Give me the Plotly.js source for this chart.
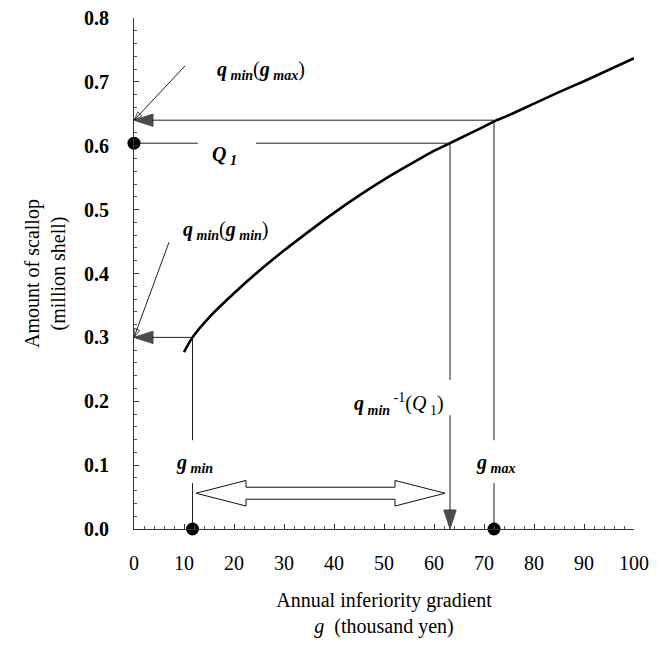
<!DOCTYPE html>
<html>
<head>
<meta charset="utf-8">
<script src="https://cdn.plot.ly/plotly-3.0.1.min.js"></script>
<style>html,body{margin:0;padding:0;background:#fff;}#chart{width:658px;height:656px;}</style>
</head>
<body>
<div id="chart"></div>
<script>
// ---- data ----
const gCurve = [10, 11.7, 15, 20, 25, 30, 35, 40, 45, 50, 55, 60, 63.2, 65, 70, 72, 75, 80, 85, 90, 95, 100];
const qCurve = [0.277, 0.300, 0.331, 0.369, 0.404, 0.436, 0.466, 0.495, 0.522, 0.547, 0.570, 0.592, 0.604, 0.611, 0.630, 0.638, 0.648, 0.666, 0.684, 0.701, 0.719, 0.737];
const gMin = 11.7, gMax = 72;
const qAtGmin = 0.30, qAtGmax = 0.64;
const Q1 = 0.604, gQ1 = 63.2;
const rangeArrow = [12.4, 62.2];   // feasible range double arrow
const xTicks = [0, 10, 20, 30, 40, 50, 60, 70, 80, 90, 100];
const yTicks = [0.0, 0.1, 0.2, 0.3, 0.4, 0.5, 0.6, 0.7, 0.8];
const yTickText = ['0.0','0.1','0.2','0.3','0.4','0.5','0.6','0.7','0.8'];

// ---- styling / layout constants ----
const serif = 'Liberation Serif';
const thin = {color: '#222', width: 1};
const arrowY = 0.056, headLen = 10, headHalf = 0.02, shaftHalf = 0.0094;
const gapQ1 = [12.8, 24.4];
const gapVQ1 = [0.233, 0.178];
const gapV = [0.139, 0.072];
const pointer1 = [10.2, 0.725], pointer2 = [7, 0.449];

const traces = [];
// main curve
traces.push({x: gCurve, y: qCurve, mode: 'lines', line: {color: '#000', width: 2.6, shape: 'spline', smoothing: 0.8}, hoverinfo: 'skip'});
// Q1 horizontal with label gap
traces.push({x: [0, gapQ1[0], null, gapQ1[1], gQ1], y: [Q1, Q1, null, Q1, Q1], mode: 'lines', line: thin, hoverinfo: 'skip', cliponaxis: false});
// vertical from Q1 to label gap
traces.push({x: [gQ1, gQ1], y: [Q1, gapVQ1[0]], mode: 'lines', line: thin, hoverinfo: 'skip'});
// g_min and g_max verticals
traces.push({x: [gMin, gMin, null, gMin, gMin, null, gMax, gMax, null, gMax, gMax],
             y: [qAtGmin, gapV[0], null, gapV[1], 0, null, qAtGmax, gapV[0], null, gapV[1], 0],
             mode: 'lines', line: thin, hoverinfo: 'skip'});
// arrows with heads at the last point
function arrowTrace(xs, ys, sym, size) {
  return {x: xs, y: ys, mode: 'lines+markers', line: thin, cliponaxis: false, hoverinfo: 'skip',
          marker: {symbol: sym, size: [0, size], angleref: 'previous', color: '#000', line: {width: 1, color: '#000'}}};
}
traces.push(arrowTrace([gMax, 0], [qAtGmax, qAtGmax], 'arrow', 20));
traces.push(arrowTrace([gMin, 0], [qAtGmin, qAtGmin], 'arrow', 20));
traces.push(arrowTrace([gQ1, gQ1], [gapVQ1[1], 0], 'arrow', 20));
traces.push(arrowTrace([pointer1[0], 0], [pointer1[1], qAtGmax], 'arrow-open', 9));
traces.push(arrowTrace([pointer2[0], 0], [pointer2[1], qAtGmin], 'arrow-open', 9));
// hollow double arrow
const a0 = rangeArrow[0], a1 = rangeArrow[1];
traces.push({
  x: [a0, a0 + headLen, a0 + headLen, a1 - headLen, a1 - headLen, a1, a1 - headLen, a1 - headLen, a0 + headLen, a0 + headLen, a0],
  y: [arrowY, arrowY + headHalf, arrowY + shaftHalf, arrowY + shaftHalf, arrowY + headHalf, arrowY,
      arrowY - headHalf, arrowY - shaftHalf, arrowY - shaftHalf, arrowY - headHalf, arrowY],
  mode: 'lines', fill: 'toself', fillcolor: '#fff', line: {color: '#111', width: 1}, hoverinfo: 'skip'
});
// dots
traces.push({x: [0, gMin, gMax], y: [Q1, 0, 0], mode: 'markers', marker: {color: '#000', size: 13}, cliponaxis: false, hoverinfo: 'skip'});

const lab = {family: serif, size: 20, color: '#000'};
const annotations = [
  {x: 25.4, y: 0.718, xref: 'x', yref: 'y', showarrow: false, font: lab, text: '<b><i>q</i></b><sub><b><i> min</i></b></sub>(<b><i>g</i></b><sub><b><i> max</i></b></sub>)'},
  {x: 18.4, y: 0.468, xref: 'x', yref: 'y', showarrow: false, font: lab, text: '<b><i>q</i></b><sub><b><i> min</i></b></sub>(<b><i>g</i></b><sub><b><i> min</i></b></sub>)'},
  {x: 18.0, y: 0.585, xref: 'x', yref: 'y', showarrow: false, font: lab, text: '<b><i>Q</i></b><sub><b><i> 1</i></b></sub>'},
  {x: 53, y: 0.196, xref: 'x', yref: 'y', showarrow: false, font: lab, text: '<b><i>q</i></b><sub><b><i> min</i></b></sub><sup> -1</sup>(<i>Q</i><sub> 1</sub>)'},
  {x: gMin + 0.3, y: 0.103, xref: 'x', yref: 'y', showarrow: false, font: lab, text: '<b><i>g</i></b><sub><b><i> min</i></b></sub>'},
  {x: gMax + 0.3, y: 0.103, xref: 'x', yref: 'y', showarrow: false, font: lab, text: '<b><i>g</i></b><sub><b><i> max</i></b></sub>'}
];

const layout = {
  width: 658, height: 656,
  margin: {l: 134, r: 24, t: 18, b: 127},
  paper_bgcolor: '#fff', plot_bgcolor: '#fff',
  showlegend: false,
  font: {family: serif, color: '#000'},
  xaxis: {
    range: [0, 100], tickvals: xTicks, ticktext: xTicks.map(String),
    showgrid: false, zeroline: false, showline: true, linecolor: '#333', linewidth: 1,
    ticks: 'inside', ticklen: 5, tickcolor: '#333',
    minor: {ticks: 'inside', ticklen: 3, dtick: 2, tickcolor: '#555'},
    tickfont: {family: serif, size: 20, color: '#000'}, ticklabelstandoff: 16,
    title: {text: 'Annual inferiority gradient<br><i>g</i>  (thousand yen)', font: {family: serif, size: 20, color: '#000'}, standoff: 19},
    automargin: false
  },
  yaxis: {
    range: [0, 0.8], tickvals: yTicks, ticktext: yTickText,
    showgrid: false, zeroline: false, showline: true, linecolor: '#333', linewidth: 1,
    ticks: 'inside', ticklen: 5, tickcolor: '#333',
    minor: {ticks: 'inside', ticklen: 3, dtick: 0.02, tickcolor: '#555'},
    tickfont: {family: serif, size: 20, color: '#000', weight: 'bold'}, ticklabelstandoff: 20,
    title: {text: 'Amount of scallop<br>(million shell)', font: {family: serif, size: 20, color: '#000'}, standoff: 13},
    automargin: false
  },
  annotations: annotations
};

Plotly.newPlot('chart', traces, layout, {staticPlot: true, displayModeBar: false});
</script>
</body>
</html>
